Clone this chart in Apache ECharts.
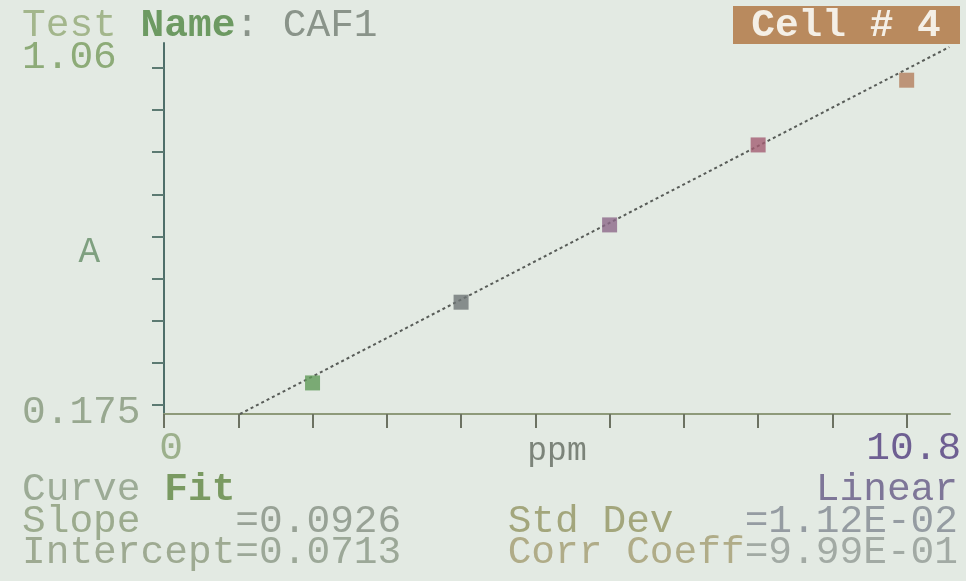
<!DOCTYPE html>
<html>
<head>
<meta charset="utf-8">
<script src="https://cdn.jsdelivr.net/npm/echarts@6/dist/echarts.min.js"></script>
<style>
html,body{margin:0;padding:0;background:#e3eae3;}
#c{width:966px;height:581px;}
</style>
</head>
<body>
<div id="c"></div>
<script>
// ---- data ----
const stdConc = [2.16, 4.32, 6.48, 8.64, 10.8];          // ppm
const stdAbs  = [0.233, 0.445, 0.648, 0.858, 1.028];     // A
const fitLineX = [1.105, 11.42];
const fitLineY = [0.1514, 1.115];
const xTickValues = [0, 1.08, 2.16, 3.24, 4.32, 5.4, 6.48, 7.56, 8.64, 9.72, 10.8];
const xTickLabels = [0, 10.8];
const yTickValues = [0.175, 0.2856, 0.3963, 0.5069, 0.6175, 0.7281, 0.8388, 0.9494, 1.06];
const yTickLabels = [0.175, 1.06];
const testName = 'CAF1';
const cellLabel = 'Cell # 4';
const fitType = 'Linear';
const slopeText = '0.0926';
const interceptText = '0.0713';
const stdDevText = '1.12E-02';
const corrText = '9.99E-01';

const pointColors = ['#5f9a58', '#6e7676', '#8c6888', '#a25c72', '#b37e5c'];
const FONT = '"Liberation Mono", "DejaVu Sans Mono", monospace';
const FS = 39.5;

const chart = echarts.init(document.getElementById('c'), null, {renderer: 'canvas'});

const option = {
  backgroundColor: '#e3eae3',
  animation: false,
  grid: {left: 164, right: 16, top: 43, bottom: 167, containLabel: false, outerBoundsMode: 'none'},
  xAxis: {
    type: 'value', min: 0, max: 11.43,
    name: 'ppm', nameLocation: 'middle', nameGap: 21, nameMoveOverlap: false,
    nameTextStyle: {fontFamily: FONT, fontSize: 33, color: '#7c847a'},
    axisLine: {show: true, onZero: false, lineStyle: {color: '#8e9a7a', width: 2}},
    axisTick: {show: true, inside: false, length: 14, customValues: xTickValues,
      lineStyle: {color: '#6c7262', width: 2}},
    axisLabel: {show: true, customValues: xTickLabels, margin: 15,
      fontFamily: FONT, fontSize: FS,
      formatter: v => v === 0 ? '{z|0}' : '{e|10.8}',
      rich: {
        z: {fontFamily: FONT, fontSize: FS, color: '#9cb08c', padding: [0, 0, 0, 14]},
        e: {fontFamily: FONT, fontSize: FS, color: '#6e5f92', padding: [0, 0, 0, 14]}
      }},
    splitLine: {show: false}
  },
  yAxis: {
    type: 'value', min: 0.1514, max: 1.1257,
    name: 'A', nameLocation: 'middle', nameGap: 64, nameRotate: 0, nameMoveOverlap: false,
    nameTextStyle: {fontFamily: FONT, fontSize: 36, color: '#7fa080', verticalAlign: 'top', padding: [6, 0, 0, 0]},
    axisLine: {show: true, onZero: false, lineStyle: {color: '#4f6f6a', width: 2}},
    axisTick: {show: true, length: 12, customValues: yTickValues,
      lineStyle: {color: '#5c7a72', width: 2}},
    axisLabel: {show: true, customValues: yTickLabels, margin: 142, align: 'left',
      formatter: v => v > 1 ? '{t|1.06}' : '{b|0.175}',
      rich: {
        t: {fontFamily: FONT, fontSize: FS, color: '#8dab78', padding: [0, 0, 20, 0]},
        b: {fontFamily: FONT, fontSize: FS, color: '#98a890', padding: [16, 0, 0, 0]}
      }},
    splitLine: {show: false}
  },
  series: [
    {
      type: 'line',
      data: fitLineX.map((x, i) => [x, fitLineY[i]]),
      symbol: 'none',
      lineStyle: {color: '#585c58', width: 2, type: [3, 3]},
      z: 2
    },
    {
      type: 'scatter',
      data: stdConc.map((x, i) => ({value: [x, stdAbs[i]], itemStyle: {color: pointColors[i]}})),
      symbol: 'rect',
      symbolSize: 15,
      z: 3
    }
  ],
  graphic: [
    {type: 'text', x: 22, y: 26, style: {
      text: '{a|Test }{b|Name}{c|: ' + testName + '}', verticalAlign: 'middle',
      rich: {
        a: {fontFamily: FONT, fontSize: FS, fill: '#a3b68c'},
        b: {fontFamily: FONT, fontSize: FS, fill: '#6d9a62', fontWeight: 'bold'},
        c: {fontFamily: FONT, fontSize: FS, fill: '#8a948a'}
      }}},
    {type: 'rect', shape: {x: 733, y: 6, width: 227, height: 38},
      style: {fill: '#b98a5e'}},
    {type: 'text', x: 846, y: 26, style: {
      text: cellLabel, fontFamily: FONT, fontSize: FS, fontWeight: 'bold',
      fill: '#f4efe6', align: 'center', verticalAlign: 'middle'}},
    {type: 'text', x: 22, y: 490, style: {
      text: '{a|Curve }{b|Fit}', verticalAlign: 'middle',
      rich: {
        a: {fontFamily: FONT, fontSize: FS, fill: '#9cab96'},
        b: {fontFamily: FONT, fontSize: FS, fill: '#7a9a62', fontWeight: 'bold'}
      }}},
    {type: 'text', x: 958, y: 490, style: {
      text: fitType, fontFamily: FONT, fontSize: FS, fill: '#7e7698',
      align: 'right', verticalAlign: 'middle'}},
    {type: 'text', x: 22, y: 522, style: {
      text: '{a|Slope    }{b|=' + slopeText + '}', verticalAlign: 'middle',
      rich: {
        a: {fontFamily: FONT, fontSize: FS, fill: '#9cab8e'},
        b: {fontFamily: FONT, fontSize: FS, fill: '#98a296'}
      }}},
    {type: 'text', x: 958, y: 522, style: {
      text: '{a|Std Dev   }{b|=' + stdDevText + '}', align: 'right', verticalAlign: 'middle',
      rich: {
        a: {fontFamily: FONT, fontSize: FS, fill: '#a3a67c'},
        b: {fontFamily: FONT, fontSize: FS, fill: '#959ca2'}
      }}},
    {type: 'text', x: 22, y: 553, style: {
      text: '{a|Intercept}{b|=' + interceptText + '}', verticalAlign: 'middle',
      rich: {
        a: {fontFamily: FONT, fontSize: FS, fill: '#9eaa92'},
        b: {fontFamily: FONT, fontSize: FS, fill: '#9ca898'}
      }}},
    {type: 'text', x: 958, y: 553, style: {
      text: '{a|Corr Coeff}{b|=' + corrText + '}', align: 'right', verticalAlign: 'middle',
      rich: {
        a: {fontFamily: FONT, fontSize: FS, fill: '#b0ac88'},
        b: {fontFamily: FONT, fontSize: FS, fill: '#a2aaa4'}
      }}}
  ]
};
chart.setOption(option);
</script>
</body>
</html>
